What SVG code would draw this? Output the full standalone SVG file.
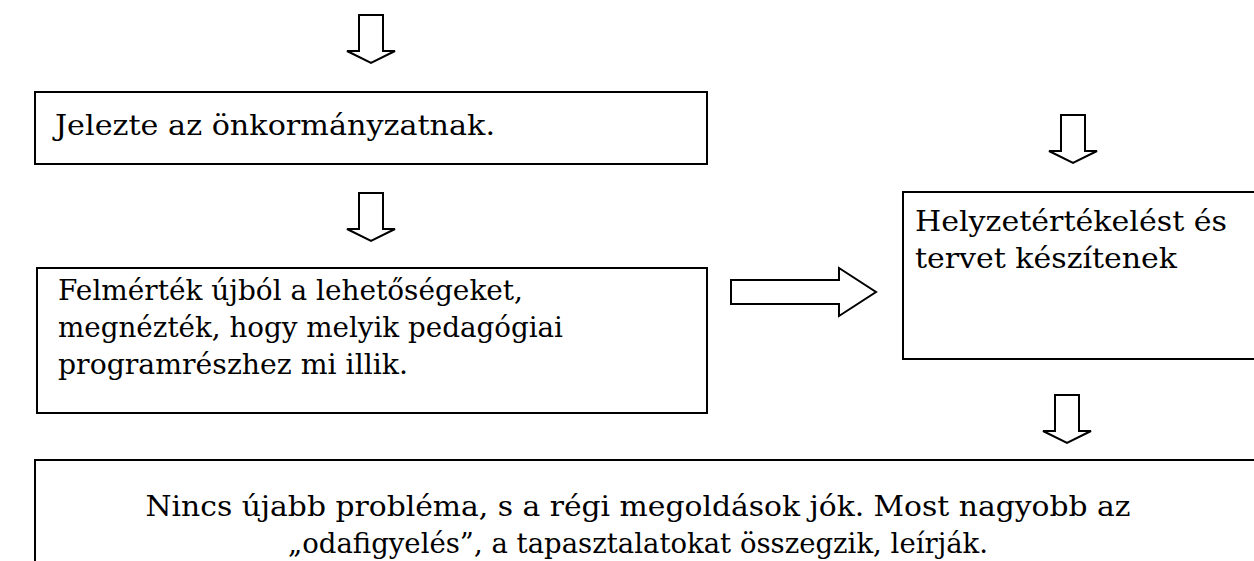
<svg xmlns="http://www.w3.org/2000/svg" width="1254" height="561" viewBox="0 0 1254 561">
  <style>
    .box { fill: #fff; stroke: #000; stroke-width: 2; }
    .arrow { fill: #fff; stroke: #000; stroke-width: 2; stroke-linejoin: miter; }
    .lbl { font-family: "DejaVu Serif", "Liberation Serif", serif; font-size: 28px; fill: #000; }
    .mid { text-anchor: middle; }
  </style>
  <rect width="1254" height="561" fill="#fff"/>

  <!-- block arrows between the steps -->
  <g id="connectors">
    <path class="arrow" d="M359,15 H383 V51 H395 L371,63 L347,51 H359 Z"/>
    <path class="arrow" d="M359,193 H383 V229 H395 L371,241 L347,229 H359 Z"/>
    <path class="arrow" d="M731,280 H839 V268 L876,292 L839,316 V304 H731 Z"/>
    <path class="arrow" d="M1061,115 H1085 V151 H1097 L1073,163 L1049,151 H1061 Z"/>
    <path class="arrow" d="M1055,395 H1079 V431 H1091 L1067,443 L1043,431 H1055 Z"/>
  </g>

  <g id="node-jelezte">
    <rect class="box" x="35" y="92" width="672" height="72"/>
    <text class="lbl" x="55" y="135" textLength="440" lengthAdjust="spacingAndGlyphs">Jelezte az önkormányzatnak.</text>
  </g>

  <g id="node-felmertek">
    <rect class="box" x="37" y="268" width="670" height="145"/>
    <text class="lbl" x="58" y="300" textLength="465" lengthAdjust="spacingAndGlyphs">Felmérték újból a lehetőségeket,</text>
    <text class="lbl" x="58" y="337" textLength="505" lengthAdjust="spacingAndGlyphs">megnézték, hogy melyik pedagógiai</text>
    <text class="lbl" x="58" y="374" textLength="350" lengthAdjust="spacingAndGlyphs">programrészhez mi illik.</text>
  </g>

  <g id="node-helyzet">
    <rect class="box" x="903" y="192" width="360" height="167"/>
    <text class="lbl" x="915" y="231" textLength="312" lengthAdjust="spacingAndGlyphs">Helyzetértékelést és</text>
    <text class="lbl" x="915" y="268" textLength="262" lengthAdjust="spacingAndGlyphs">tervet készítenek</text>
  </g>

  <g id="node-nincs">
    <rect class="box" x="35" y="460" width="1228" height="120"/>
    <text class="lbl mid" x="638" y="516" textLength="985" lengthAdjust="spacingAndGlyphs">Nincs újabb probléma, s a régi megoldások jók. Most nagyobb az</text>
    <text class="lbl mid" x="638" y="553" textLength="700" lengthAdjust="spacingAndGlyphs">„odafigyelés”, a tapasztalatokat összegzik, leírják.</text>
  </g>
</svg>
